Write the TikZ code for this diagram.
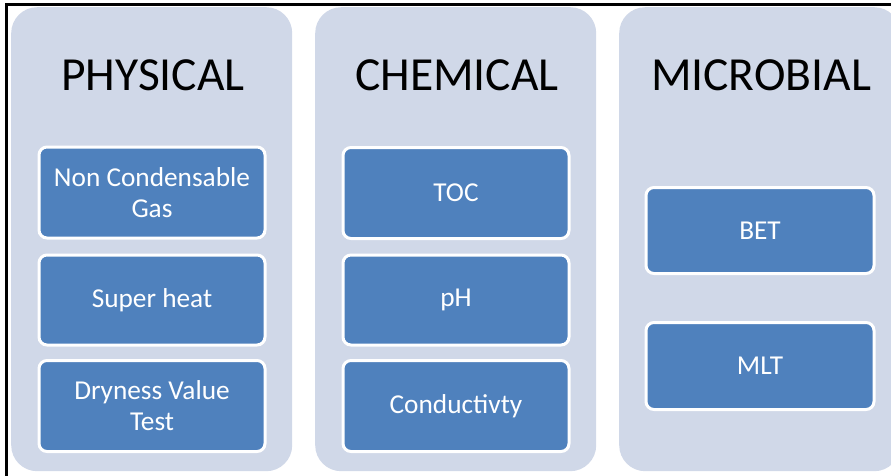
\documentclass[tikz,border=0pt]{standalone}
\usepackage{fontspec}
\setmainfont{Carlito}
\definecolor{panelfill}{RGB}{208,216,232}
\definecolor{boxfill}{RGB}{79,129,189}
\begin{document}
\begin{tikzpicture}[x=1pt,y=-1pt,
  panel/.style={fill=panelfill, rounded corners=26pt, minimum width=281pt, minimum height=464pt, inner sep=0pt, anchor=north west},
  item/.style={fill=boxfill, draw=white, line width=3pt, rounded corners=8pt, minimum width=226pt, align=center, inner sep=0pt, text=white, font=\fontsize{27.3}{31}\selectfont},
  title/.style={font=\fontsize{47.5}{50}\selectfont, text=black, inner sep=0pt}]
\useasboundingbox (0,0) rectangle (891,475);
\clip (0,0) rectangle (891,475);
\fill[white] (0,0) rectangle (891,475);
\node[panel] (p1) at (11,7) {};
\node[panel] (p2) at (315,7) {};
\node[panel] (p3) at (619,7) {};
\node[title] (t1) at (153,75) {PHYSICAL};
\node[title] (t2) at (457,75) {CHEMICAL};
\node[title] (t3) at (761,75) {MICROBIAL};
\node[item, minimum height=91pt] (a1) at (152,192.5) {Non Condensable\\Gas};
\node[item, minimum height=90pt] (a2) at (152,300) {Super heat};
\node[item, minimum height=91pt] (a3) at (152,406) {Dryness Value\\Test};
\node[item, minimum height=91pt] (b1) at (456,193) {TOC};
\node[item, minimum height=90pt] (b2) at (456,300) {pH};
\node[item, minimum height=91pt] (b3) at (456,406) {Conductivty};
\node[item, minimum width=228pt, minimum height=86pt] (c1) at (760,230.5) {BET};
\node[item, minimum width=228pt, minimum height=87pt] (c2) at (760,366) {MLT};
\draw[line width=3pt] (6.5,476) -- (6.5,4.5) -- (892,4.5);
\end{tikzpicture}
\end{document}
